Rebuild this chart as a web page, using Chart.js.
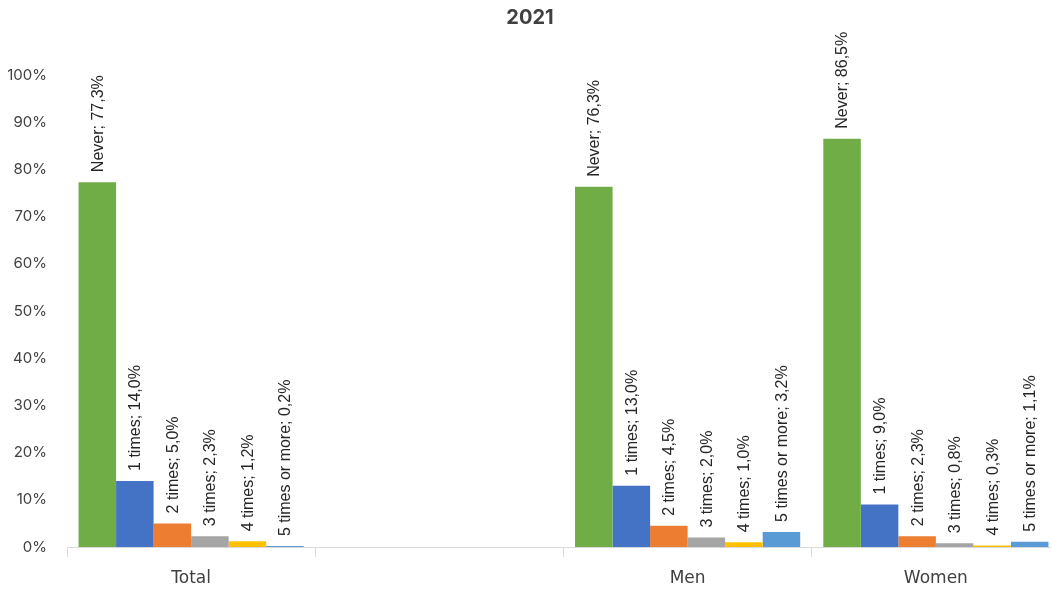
<!DOCTYPE html>
<html>
<head>
<meta charset="utf-8">
<title>2021</title>
<script src="https://cdn.jsdelivr.net/npm/chart.js@4"></script>
<style>
  html, body { margin: 0; padding: 0; background: #fff; overflow: hidden; }
</style>
</head>
<body>
<canvas id="freqChart" width="1060" height="589"></canvas>
<script>
const groups = ['Total', '', 'Men', 'Women'];
const answers = ['Never', '1 times', '2 times', '3 times', '4 times', '5 times or more'];
const never = [77.3, null, 76.3, 86.5];
const once = [14.0, null, 13.0, 9.0];
const twice = [5.0, null, 4.5, 2.3];
const threeTimes = [2.3, null, 2.0, 0.8];
const fourTimes = [1.2, null, 1.0, 0.3];
const fivePlus = [0.2, null, 3.2, 1.1];
const yTicks = [0, 10, 20, 30, 40, 50, 60, 70, 80, 90, 100];

const seriesValues = [never, once, twice, threeTimes, fourTimes, fivePlus];
const colors = ['#70AD47', '#4472C4', '#ED7D31', '#A5A5A5', '#FFC000', '#5B9BD5'];

// "Never; 77,3%" written up the bar, starting just above its top
const barLabels = {
  id: 'barLabels',
  afterDatasetsDraw(chart) {
    const ctx = chart.ctx;
    ctx.save();
    ctx.font = '16px "Liberation Sans", Arial, sans-serif';
    ctx.fillStyle = '#262626';
    ctx.textAlign = 'left';
    ctx.textBaseline = 'middle';
    chart.data.datasets.forEach((ds, i) => {
      chart.getDatasetMeta(i).data.forEach((bar, j) => {
        const v = ds.data[j];
        if (v === null) return;
        const txt = ds.label + '; ' + v.toFixed(1).replace('.', ',') + '%';
        ctx.save();
        ctx.translate(bar.x + 1, bar.y - 10);
        ctx.rotate(-Math.PI / 2);
        ctx.fillText(txt, 0, 0);
        ctx.restore();
      });
    });
    ctx.restore();
  }
};

new Chart(document.getElementById('freqChart'), {
  type: 'bar',
  data: {
    labels: groups,
    datasets: answers.map((a, i) => ({
      label: a,
      data: seriesValues[i],
      backgroundColor: colors[i],
      borderWidth: 0,
      categoryPercentage: 0.907,
      barPercentage: 1
    }))
  },
  options: {
    responsive: false,
    animation: false,
    layout: { padding: 0 },
    plugins: {
      legend: { display: false },
      tooltip: { enabled: false },
      title: {
        display: true,
        text: '2021',
        color: '#404040',
        font: { family: 'Inter, "Open Sans", sans-serif', size: 20, weight: 'bold' },
        padding: { top: 6, bottom: 45 }
      }
    },
    scales: {
      x: {
        grid: {
          display: true,
          offset: true,
          drawOnChartArea: false,
          drawTicks: true,
          tickLength: 10,
          color: '#d9d9d9'
        },
        border: { display: true, color: '#d9d9d9' },
        ticks: {
          color: '#404040',
          padding: 11,
          font: { family: '"DejaVu Sans", sans-serif', size: 17 }
        },
        afterFit(scale) { scale.height = 42; }
      },
      y: {
        min: 0,
        max: 100,
        grid: { display: false, drawTicks: false },
        border: { display: false },
        afterBuildTicks(scale) { scale.ticks = yTicks.map(v => ({ value: v })); },
        ticks: {
          color: '#404040',
          padding: 20,
          font: { family: 'Inter, "Open Sans", sans-serif', size: 15 },
          callback: v => v + '%'
        },
        afterFit(scale) { scale.width = 67; }
      }
    }
  },
  plugins: [barLabels]
});
</script>
</body>
</html>
